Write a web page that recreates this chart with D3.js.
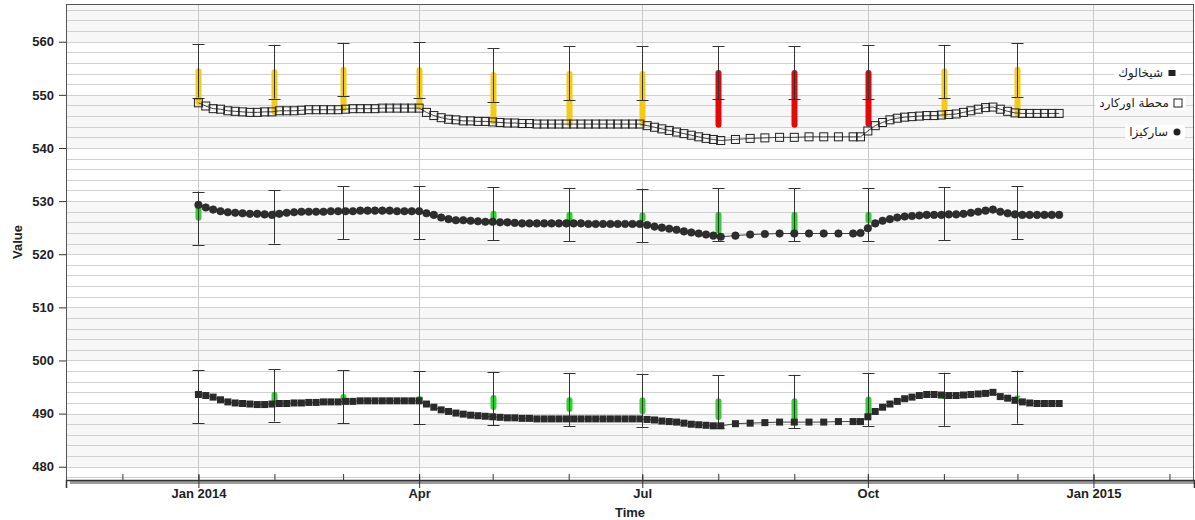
<!DOCTYPE html>
<html>
<head>
<meta charset="utf-8">
<script src="https://cdn.jsdelivr.net/npm/d3@7"></script>
<style>
  body { margin: 0; background: #fff; }
  text { font-family: "Liberation Sans", Arial, sans-serif; }
</style>
</head>
<body>
<script>
// legend names
const names = { orchard: "محطة اوركارد", sarkiza: "ساركيزا", shikhaluk: "شيخالوك" };

// sample days after 1 Jan 2014: every 3 days, sparser through Aug-Sep
const sampleDays = [].concat(d3.range(0, 214, 3), d3.range(219, 268, 6), d3.range(270, 352, 3));

const orchard = [
  548.5, 547.9, 547.4, 547.3, 547.0, 546.9, 546.8, 546.7, 546.7, 546.8,
  546.8, 547.0, 547.0, 547.0, 547.1, 547.2, 547.2, 547.2, 547.2, 547.2,
  547.3, 547.4, 547.4, 547.4, 547.4, 547.5, 547.5, 547.5, 547.5, 547.5,
  547.5, 546.7, 546.1, 545.7, 545.4, 545.3, 545.1, 545.1, 545.0, 545.0,
  544.9, 544.8, 544.7, 544.7, 544.6, 544.6, 544.5, 544.5, 544.5, 544.5,
  544.5, 544.5, 544.5, 544.5, 544.5, 544.5, 544.5, 544.5, 544.5, 544.5,
  544.5, 544.2, 543.9, 543.6, 543.3, 543.0, 542.7, 542.4, 542.1, 541.8,
  541.6, 541.4,
  541.6, 541.8, 541.9, 542.0, 542.0, 542.1, 542.1, 542.1, 542.1,
  542.1, 543.2, 544.2, 544.8, 545.3, 545.6, 545.8, 545.9, 546.0, 546.1,
  546.1, 546.2, 546.3, 546.4, 546.7, 547.0, 547.3, 547.6, 547.7, 547.3,
  546.9, 546.6, 546.5, 546.5, 546.5, 546.5, 546.5, 546.5
];

const sarkiza = [
  529.3, 528.8, 528.4, 528.1, 527.9, 527.8, 527.7, 527.6, 527.6, 527.5,
  527.4, 527.6, 527.8, 527.9, 528.0, 528.0, 528.0, 528.0, 528.1, 528.1,
  528.1, 528.1, 528.2, 528.2, 528.2, 528.2, 528.2, 528.1, 528.1, 528.1,
  528.1, 527.7, 527.4, 526.9, 526.6, 526.4, 526.4, 526.3, 526.2, 526.1,
  526.1, 526.0, 526.0, 525.9, 525.8, 525.8, 525.8, 525.8, 525.8, 525.8,
  525.8, 525.8, 525.8, 525.7, 525.7, 525.7, 525.7, 525.7, 525.7, 525.7,
  525.7, 525.5, 525.2, 525.0, 524.8, 524.6, 524.3, 524.1, 523.9, 523.7,
  523.5, 523.3,
  523.5, 523.7, 523.8, 523.9, 523.9, 523.9, 523.9, 523.9, 523.9,
  524.0, 524.9, 525.8, 526.3, 526.6, 526.9, 527.1, 527.2, 527.3, 527.4,
  527.4, 527.4, 527.5, 527.5, 527.6, 527.8, 528.0, 528.2, 528.4, 528.0,
  527.7, 527.5, 527.4, 527.4, 527.4, 527.4, 527.4, 527.4
];

const shikhaluk = [
  493.6, 493.4, 493.1, 492.6, 492.2, 492.0, 491.9, 491.8, 491.7, 491.7,
  491.8, 491.9, 491.9, 492.0, 492.0, 492.1, 492.1, 492.2, 492.2, 492.2,
  492.3, 492.3, 492.4, 492.4, 492.4, 492.4, 492.4, 492.4, 492.4, 492.4,
  492.4, 491.8, 491.2, 490.7, 490.4, 490.1, 489.9, 489.7, 489.6, 489.5,
  489.4, 489.3, 489.2, 489.2, 489.1, 489.1, 489.0, 489.0, 489.0, 489.0,
  489.0, 489.0, 489.0, 489.0, 489.0, 489.0, 489.0, 489.0, 489.0, 489.0,
  489.0, 488.9, 488.8, 488.6, 488.5, 488.4, 488.2, 488.0, 487.9, 487.8,
  487.7, 487.7,
  488.1, 488.2, 488.3, 488.4, 488.4, 488.4, 488.4, 488.5, 488.5,
  488.5, 489.4, 490.4, 491.2, 491.8, 492.3, 492.8, 493.1, 493.4, 493.6,
  493.6, 493.5, 493.4, 493.4, 493.5, 493.6, 493.7, 493.8, 494.0, 493.2,
  492.9, 492.5, 492.2, 492.0, 491.9, 491.9, 491.9, 491.9
];

// monthly checks (1st of each month, 2014)
const months = ["2014-01-01", "2014-02-01", "2014-03-01", "2014-04-01", "2014-05-01", "2014-06-01",
  "2014-07-01", "2014-08-01", "2014-09-01", "2014-10-01", "2014-11-01", "2014-12-01"];

const orchardHigh = [559.6, 559.4, 559.8, 559.9, 558.8, 559.2, 559.2, 559.2, 559.2, 559.4, 559.4, 559.7];
const orchardLow = [549.5, 549.3, 549.8, 549.5, 548.7, 549.0, 549.0, 549.2, 549.2, 549.3, 549.4, 549.6];
const orchardBarTop = [555.0, 554.8, 555.3, 555.2, 554.3, 554.5, 554.5, 554.7, 554.7, 554.7, 555.0, 555.3];
const orchardBarBottom = [548.1, 546.2, 546.8, 547.1, 544.4, 544.0, 544.0, 543.8, 543.8, 544.0, 545.6, 545.9];
const orchardStatus = ["warn", "warn", "warn", "warn", "warn", "warn", "warn", "alarm", "alarm", "alarm", "warn", "warn"];

const sarkizaHigh = [531.8, 532.0, 532.8, 532.8, 532.6, 532.5, 532.3, 532.4, 532.4, 532.4, 532.6, 532.8];
const sarkizaLow = [521.8, 522.0, 522.8, 522.8, 522.6, 522.5, 522.3, 522.4, 522.4, 522.4, 522.6, 522.8];
const sarkizaBarTop = [529.5, 528.3, 528.3, 528.3, 528.2, 528.0, 527.9, 528.0, 528.0, 528.0, 527.9, 528.0];
const sarkizaBarBottom = [526.3, 527.0, 527.7, 527.5, 526.4, 526.2, 526.1, 523.9, 523.9, 525.8, 527.2, 527.2];

const shikhalukHigh = [498.2, 498.4, 498.2, 498.0, 497.8, 497.6, 497.5, 497.2, 497.3, 497.6, 497.7, 498.1];
const shikhalukLow = [488.2, 488.5, 488.2, 488.0, 487.8, 487.6, 487.5, 487.2, 487.3, 487.6, 487.7, 488.1];
const shikhalukBarTop = [494.0, 494.1, 493.7, 493.3, 493.5, 493.1, 493.1, 492.9, 492.9, 493.2, 493.0, 493.4];
const shikhalukBarBottom = [493.2, 492.1, 492.6, 492.6, 490.7, 490.3, 489.9, 488.8, 488.8, 489.6, 492.7, 493.0];

const yTicks = [480, 490, 500, 510, 520, 530, 540, 550, 560];
const xLabels = ["Jan 2014", "Apr", "Jul", "Oct", "Jan 2015"];

const statusColor = { ok: "#2fd22f", warn: "#f3cb17", alarm: "#e30909" };

const W = 1195, H = 520;
const plot = { left: 66, right: 1194, top: 4, bottom: 480 };

const svg = d3.select("body").append("svg").attr("width", W).attr("height", H);

const start = Date.UTC(2014, 0, 1);
const dayDate = (d) => new Date(start + d * 864e5);
const parse = d3.utcParse("%Y-%m-%d");

const x = d3.scaleUtc()
  .domain([Date.UTC(2013, 10, 8), Date.UTC(2015, 1, 11)])
  .range([plot.left, plot.right]);
const y = d3.scaleLinear().domain([477.5, 567.1]).range([plot.bottom, plot.top]);

// background bands & grid
const grid = svg.append("g");
[480, 500, 520, 540, 560].forEach((v) => {
  const top = Math.max(y(v + 10), plot.top);
  grid.append("rect")
    .attr("x", plot.left).attr("width", plot.right - plot.left)
    .attr("y", top).attr("height", y(v) - top)
    .attr("fill", "#f7f7f7");
});
grid.selectAll("line.h")
  .data(d3.range(478, 567, 2))
  .enter().append("line")
  .attr("x1", plot.left).attr("x2", plot.right)
  .attr("y1", (d) => Math.round(y(d)) + 0.5).attr("y2", (d) => Math.round(y(d)) + 0.5)
  .attr("stroke", "#d0d0d0");
const quarters = d3.utcMonth.every(3).range(new Date(Date.UTC(2014, 0, 1)), new Date(Date.UTC(2015, 0, 2)));
grid.selectAll("line.v")
  .data(quarters)
  .enter().append("line")
  .attr("x1", (d) => Math.round(x(d)) + 0.5).attr("x2", (d) => Math.round(x(d)) + 0.5)
  .attr("y1", plot.top).attr("y2", plot.bottom)
  .attr("stroke", "#c8c8c8");

// frame with shadow
svg.append("rect")
  .attr("x", plot.left + 4).attr("y", plot.bottom).attr("width", W - plot.left - 4).attr("height", 4)
  .attr("fill", "#9a9a9a");
svg.append("rect")
  .attr("x", plot.left + 0.5).attr("y", plot.top + 0.5)
  .attr("width", plot.right - plot.left - 1).attr("height", plot.bottom - plot.top)
  .attr("fill", "none").attr("stroke", "#555");

// y axis
const yAxis = svg.append("g")
  .attr("transform", `translate(${plot.left},0)`)
  .call(d3.axisLeft(y).tickValues(yTicks).tickSize(7).tickPadding(5).tickFormat(d3.format("d")));
yAxis.select(".domain").remove();
yAxis.selectAll("line").attr("stroke", "#333");
yAxis.selectAll("text").style("font-size", "13px").style("font-weight", "bold").attr("fill", "#222");

// x axis: quarterly labelled ticks, monthly minor ticks
const minor = svg.append("g")
  .attr("transform", `translate(0,${plot.bottom})`)
  .call(d3.axisBottom(x).ticks(d3.utcMonth.every(1)).tickSize(-6).tickFormat(""));
minor.select(".domain").remove();
minor.selectAll("line").attr("stroke", "#333");

const xAxis = svg.append("g")
  .attr("transform", `translate(0,${plot.bottom})`)
  .call(d3.axisBottom(x).tickValues(quarters).tickSize(8).tickFormat((d, i) => xLabels[i]));
xAxis.select(".domain").attr("stroke", "#333").attr("stroke-width", 1.5);
xAxis.selectAll("line").attr("y1", -5).attr("stroke", "#333");
xAxis.selectAll("text")
  .attr("y", 18).attr("dy", null)
  .style("font-size", "13px").style("font-weight", "bold").attr("fill", "#222");

svg.append("text")
  .attr("x", (plot.left + plot.right) / 2).attr("y", 517)
  .attr("text-anchor", "middle")
  .style("font-size", "13px").style("font-weight", "bold").attr("fill", "#222")
  .text("Time");
svg.append("text")
  .attr("transform", `translate(22,${(plot.top + plot.bottom) / 2}) rotate(-90)`)
  .attr("text-anchor", "middle")
  .style("font-size", "13px").style("font-weight", "bold").attr("fill", "#222")
  .text("Value");

// monthly range bars and whiskers
function drawChecks(high, low, barTop, barBottom, status) {
  const g = svg.append("g");
  months.forEach((m, i) => {
    const cx = Math.round(x(parse(m))) + 0.5;
    g.append("rect")
      .attr("x", cx - 3).attr("width", 6)
      .attr("y", y(barTop[i])).attr("height", y(barBottom[i]) - y(barTop[i]))
      .attr("rx", 3)
      .attr("fill", statusColor[status[i]]);
    g.append("line")
      .attr("x1", cx).attr("x2", cx).attr("y1", y(high[i])).attr("y2", y(low[i]))
      .attr("stroke", "#333");
    [high[i], low[i]].forEach((v) => {
      g.append("line")
        .attr("x1", cx - 6).attr("x2", cx + 6)
        .attr("y1", Math.round(y(v)) + 0.5).attr("y2", Math.round(y(v)) + 0.5)
        .attr("stroke", "#333");
    });
  });
}
const allOk = months.map(() => "ok");
drawChecks(orchardHigh, orchardLow, orchardBarTop, orchardBarBottom, orchardStatus);
drawChecks(sarkizaHigh, sarkizaLow, sarkizaBarTop, sarkizaBarBottom, allOk);
drawChecks(shikhalukHigh, shikhalukLow, shikhalukBarTop, shikhalukBarBottom, allOk);

// series lines and markers
const line = d3.line()
  .x((d, i) => x(dayDate(sampleDays[i])))
  .y((d) => y(d));

function drawSeries(values, marker) {
  svg.append("path")
    .datum(values)
    .attr("d", line)
    .attr("fill", "none")
    .attr("stroke", "#444")
    .attr("stroke-width", 1);
  const g = svg.append("g");
  values.forEach((v, i) => {
    const px = x(dayDate(sampleDays[i])), py = y(v);
    if (marker === "open") {
      g.append("rect").attr("x", px - 4).attr("y", py - 4).attr("width", 8).attr("height", 8)
        .attr("fill", "none").attr("stroke", "#222");
    } else if (marker === "circle") {
      g.append("circle").attr("cx", px).attr("cy", py).attr("r", 3.8)
        .attr("fill", "#2e2e2e").attr("stroke", "#1a1a1a").attr("stroke-width", 0.5);
    } else {
      g.append("rect").attr("x", px - 3.5).attr("y", py - 3.5).attr("width", 7).attr("height", 7)
        .attr("fill", "#2a2a2a");
    }
  });
}
drawSeries(orchard, "open");
drawSeries(sarkiza, "circle");
drawSeries(shikhaluk, "filled");

// legend
const legendItems = [
  { name: names.shikhaluk, marker: "filled", mx: 1172, y: 73 },
  { name: names.orchard, marker: "open", mx: 1178, y: 103 },
  { name: names.sarkiza, marker: "circle", mx: 1177, y: 132 }
];
const legend = svg.append("g");
legendItems.forEach((it) => {
  const g = legend.append("g");
  const bg = g.append("rect").attr("fill", "#fff");
  const t = g.append("text")
    .attr("x", it.mx - 9).attr("y", it.y).attr("dy", "0.35em")
    .attr("text-anchor", "end")
    .style("font-family", "'DejaVu Sans', sans-serif")
    .style("font-size", "12px").attr("fill", "#222")
    .text(it.name);
  const bb = t.node().getBBox();
  bg.attr("x", bb.x - 4).attr("y", it.y - 7).attr("width", it.mx + 8 - bb.x + 4).attr("height", 14);
  if (it.marker === "filled") {
    g.append("rect").attr("x", it.mx - 3.5).attr("y", it.y - 3).attr("width", 7).attr("height", 6).attr("fill", "#222");
  } else if (it.marker === "open") {
    g.append("rect").attr("x", it.mx - 4).attr("y", it.y - 4).attr("width", 8).attr("height", 8)
      .attr("fill", "#fff").attr("stroke", "#222");
  } else {
    g.append("circle").attr("cx", it.mx).attr("cy", it.y).attr("r", 3.5).attr("fill", "#222");
  }
});
</script>
</body>
</html>
